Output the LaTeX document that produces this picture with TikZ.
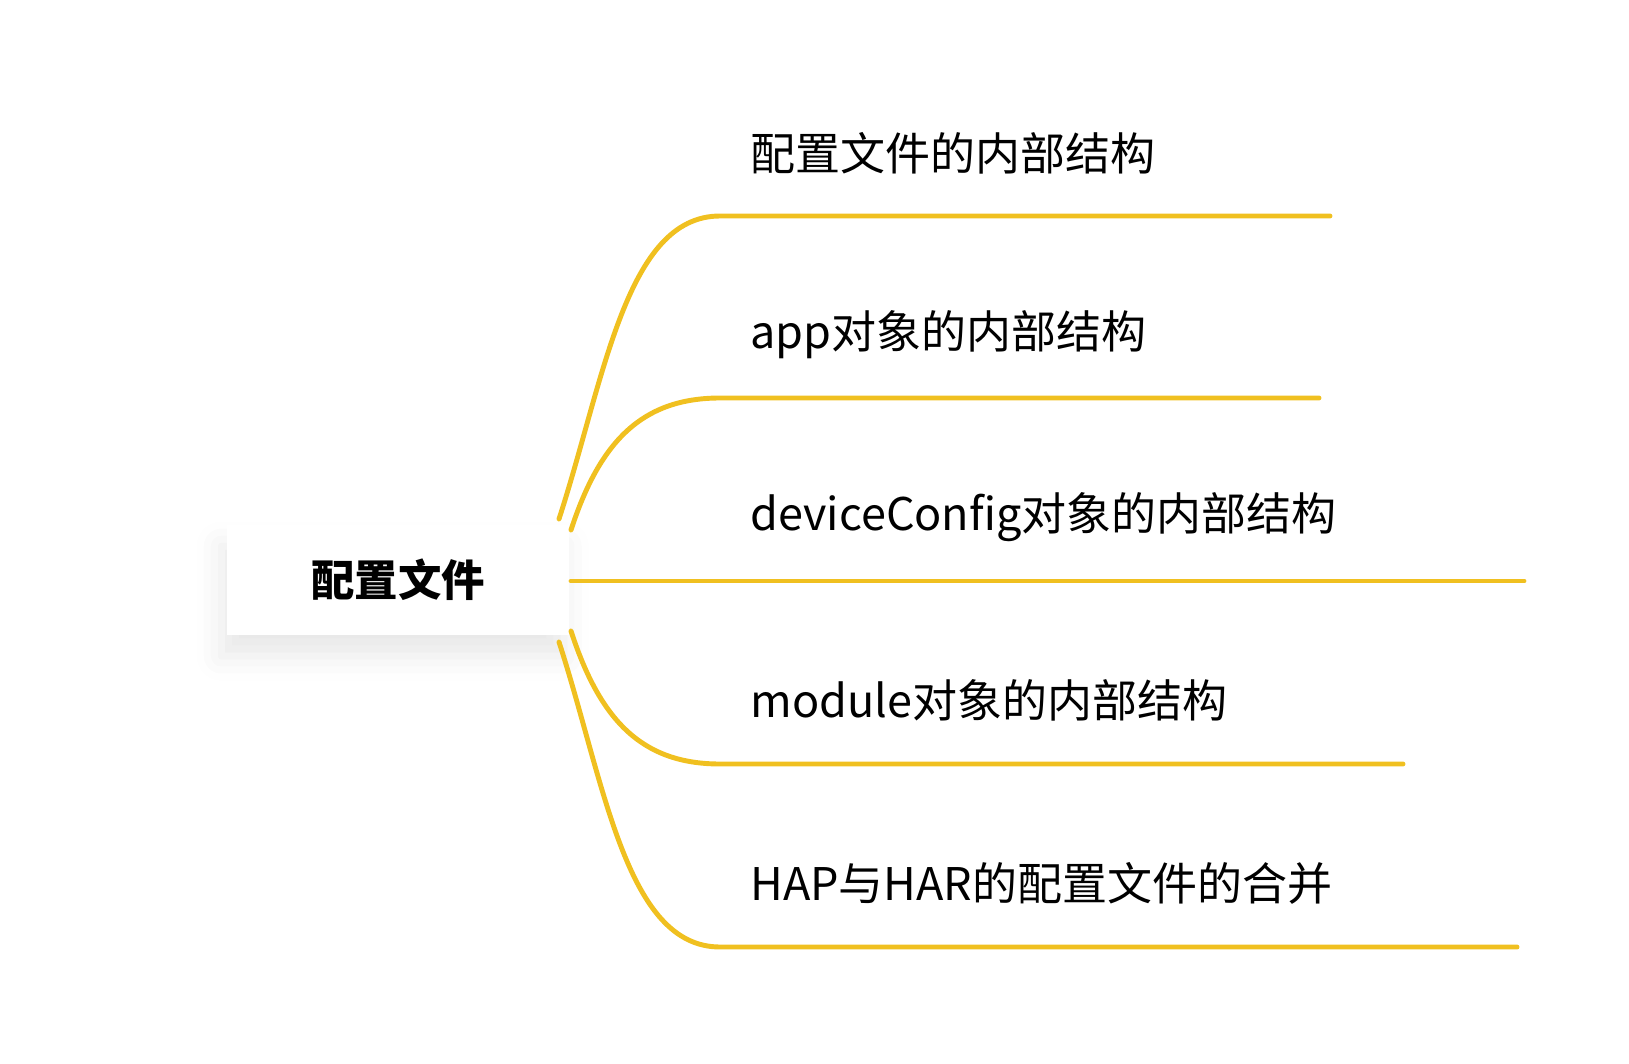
\documentclass[tikz,border=0pt]{standalone}
\usepackage{fontspec}
\setmainfont{Noto Sans CJK SC}
\usetikzlibrary{shadows.blur}
\definecolor{MyYellow}{HTML}{F0C020}

\begin{document}
\begin{tikzpicture}[x=0.02cm,y=-0.02cm,
    branch/.style={draw=MyYellow,line width=2.8pt,line cap=round},
    topic/.style={anchor=west,inner sep=0pt,font=\fontsize{25.6}{30}\selectfont}]
        \useasboundingbox (0,0) rectangle (1629,1064);

        % root box
        \node[fill=white,minimum width=6.86cm,minimum height=2.2cm,
              blur shadow={shadow xshift=-3pt,shadow yshift=-12pt,shadow blur radius=14pt,shadow opacity=9},
              font=\fontsize{24.7}{30}\selectfont\bfseries] (root) at (398,580) {配置文件};

        % topics
        \node[topic] (t1) at (750,153) {配置文件的内部结构};
        \node[topic] (t2) at (750,335) {app对象的内部结构};
        \node[topic] (t3) at (750,517) {deviceConfig对象的内部结构};
        \node[topic] (t4) at (750,700) {module对象的内部结构};
        \node[topic] (t5) at (750,883) {HAP与HAR的配置文件的合并};

        \coordinate (s1) at (559,519);  \coordinate (k1) at (720,216);  \coordinate (e1) at (1330,216);
        \coordinate (s2) at (571,530);  \coordinate (k2) at (720,398);  \coordinate (e2) at (1319,398);
        \coordinate (s3) at (571,581);  \coordinate (e3) at (1524,581);
        \coordinate (s4) at (571,631);  \coordinate (k4) at (720,764);  \coordinate (e4) at (1403,764);
        \coordinate (s5) at (559,642);  \coordinate (k5) at (720,947);  \coordinate (e5) at (1517,947);

        \draw[branch] (s1) to[out=72,in=180,out looseness=1.1,in looseness=0.7] (k1) -- (e1);
        \draw[branch] (s2) to[out=72,in=180,out looseness=1.2] (k2) -- (e2);
        \draw[branch] (s3) -- (e3);
        \draw[branch] (s4) to[out=-72,in=180,out looseness=1.2] (k4) -- (e4);
        \draw[branch] (s5) to[out=-72,in=180,out looseness=1.1,in looseness=0.7] (k5) -- (e5);
\end{tikzpicture}
\end{document}
